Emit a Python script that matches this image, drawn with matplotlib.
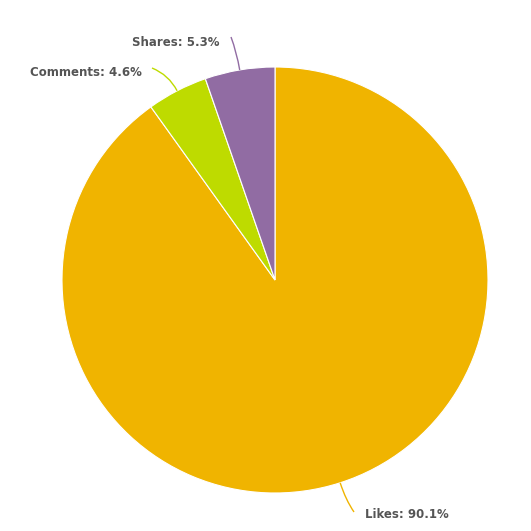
import numpy as np
import matplotlib
matplotlib.use("Agg")
import matplotlib.pyplot as plt
from matplotlib.path import Path
from matplotlib.patches import PathPatch

labels = ["Likes", "Comments", "Shares"]
shares = [90.1, 4.6, 5.3]
colors = ["#f0b400", "#bedb00", "#916ca3"]

# label anchor (end of the connector) and text position in pixels, y down
ends = [(354, 512), (152, 68), (231, 37)]
text_pos = [(365, 515), (142, 73), (220, 42)]
text_ha = ["left", "right", "right"]

W = H = 531
cx, cy, r = 275, 280, 213

fig = plt.figure(figsize=(W / 100, H / 100), dpi=100)
ax = fig.add_axes([0, 0, 1, 1])

wedges, _ = ax.pie(shares, colors=colors, startangle=90, counterclock=False,
                   center=(cx, H - cy), radius=r,
                   wedgeprops=dict(edgecolor="white", linewidth=0.8))
# pie resets the limits, so set them afterwards
ax.set_xlim(0, W)
ax.set_ylim(0, H)
ax.set_aspect("equal")
ax.axis("off")

for w, lab, val, col, (ex, ey), (tx, ty), ha in zip(wedges, labels, shares, colors,
                                                     ends, text_pos, text_ha):
    mid = np.deg2rad((w.theta1 + w.theta2) / 2)
    sx = cx + r * np.cos(mid)
    sy = (H - cy) + r * np.sin(mid)
    c1x = cx + (r + 18) * np.cos(mid)
    c1y = (H - cy) + (r + 18) * np.sin(mid)
    path = Path([(sx, sy), (c1x, c1y), (ex, H - ey)],
                [Path.MOVETO, Path.CURVE3, Path.CURVE3])
    ax.add_patch(PathPatch(path, facecolor="none", edgecolor=col, lw=1))
    ax.text(tx, H - ty, f"{lab}: {val}%", ha=ha, va="center",
            fontsize=8.5, fontweight="bold", color="#555555", family="DejaVu Sans")

fig.savefig("out.png", dpi=100)
